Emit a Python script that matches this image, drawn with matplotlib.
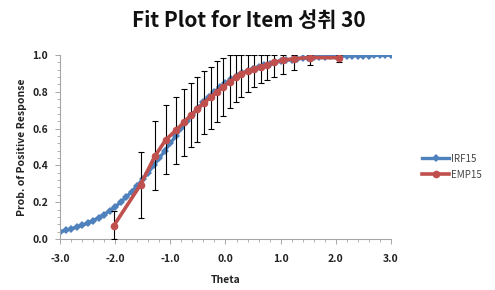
import matplotlib
matplotlib.use("Agg")
import matplotlib.pyplot as plt
from matplotlib.ticker import MultipleLocator, FormatStrFormatter
import numpy as np

plt.rcParams['font.family'] = ['Noto Sans CJK KR', 'DejaVu Sans']

# IRF15 curve (theta grid and probabilities)
irf_theta = [round(-3.0 + 0.1 * i, 1) for i in range(61)]
irf_p = [0.040, 0.047, 0.055, 0.064, 0.074, 0.086, 0.100, 0.115, 0.133, 0.153,
         0.175, 0.200, 0.228, 0.257, 0.290, 0.325, 0.361, 0.400, 0.439, 0.480,
         0.520, 0.561, 0.601, 0.639, 0.676, 0.710, 0.743, 0.773, 0.800, 0.825,
         0.847, 0.867, 0.885, 0.900, 0.914, 0.926, 0.936, 0.946, 0.953, 0.960,
         0.966, 0.971, 0.975, 0.979, 0.982, 0.985, 0.987, 0.989, 0.991, 0.992,
         0.993, 0.994, 0.995, 0.996, 0.996, 0.997, 0.997, 0.998, 0.998, 0.998,
         0.999]

# EMP15 points with error bar bounds
emp_theta = [-2.03, -1.54, -1.28, -1.08, -0.90, -0.75, -0.63, -0.51, -0.39, -0.27,
             -0.15, -0.04, 0.08, 0.19, 0.29, 0.41, 0.52, 0.64, 0.76, 0.88,
             1.05, 1.25, 1.53, 2.06]
emp_p = [0.070, 0.295, 0.450, 0.540, 0.590, 0.635, 0.672, 0.705, 0.741, 0.769,
         0.800, 0.828, 0.855, 0.878, 0.897, 0.913, 0.925, 0.935, 0.947, 0.960,
         0.972, 0.980, 0.986, 0.985]
emp_lo = [0.000, 0.116, 0.265, 0.355, 0.408, 0.453, 0.498, 0.529, 0.569, 0.600,
          0.638, 0.670, 0.710, 0.743, 0.773, 0.800, 0.824, 0.848, 0.862, 0.879,
          0.897, 0.918, 0.946, 0.964]
emp_hi = [0.154, 0.474, 0.641, 0.728, 0.770, 0.815, 0.846, 0.880, 0.913, 0.937,
          0.967, 0.985, 1.000, 1.000, 1.000, 1.000, 1.000, 1.000, 1.000, 1.000,
          1.000, 1.000, 1.000, 1.000]

title = "Fit Plot for Item 성취 30"
xlabel = "Theta"
ylabel = "Prob. of Positive Response"

blue = "#4F81BD"
red = "#C0504D"

fig = plt.figure(figsize=(4.95, 2.9), dpi=100)
ax = fig.add_axes([0.1212, 0.1759, 0.6687, 0.6345])

l1, = ax.plot(irf_theta, irf_p, color=blue, lw=2.4, marker='D', markersize=4.4,
              markeredgewidth=0, label="IRF15", zorder=2)

emp_p_a = np.array(emp_p)
yerr = [emp_p_a - np.array(emp_lo), np.array(emp_hi) - emp_p_a]
ax.errorbar(emp_theta, emp_p, yerr=yerr, fmt='none', ecolor='black', elinewidth=0.8,
            capsize=2.5, capthick=0.8, zorder=3)
l2, = ax.plot(emp_theta, emp_p, color=red, lw=2.6, marker='o', markersize=5.5,
              markeredgewidth=0, label="EMP15", zorder=4)

ax.set_xlim(-3.0, 3.0)
ax.set_ylim(0.0, 1.0)
ax.xaxis.set_major_locator(MultipleLocator(1.0))
ax.xaxis.set_minor_locator(MultipleLocator(0.2))
ax.yaxis.set_major_locator(MultipleLocator(0.2))
ax.yaxis.set_minor_locator(MultipleLocator(0.04))
ax.xaxis.set_major_formatter(FormatStrFormatter('%.1f'))
ax.yaxis.set_major_formatter(FormatStrFormatter('%.1f'))

for s in ['top', 'right']:
    ax.spines[s].set_visible(False)
for s in ['left', 'bottom']:
    ax.spines[s].set_color('#A6A6A6')
    ax.spines[s].set_linewidth(0.8)

ax.tick_params(axis='both', which='major', direction='out', length=3.5, width=0.7,
               color='#A6A6A6', labelsize=7.5, labelcolor='#222222', pad=5)
ax.tick_params(axis='x', which='major', pad=7)
ax.tick_params(axis='both', which='minor', direction='out', length=2, width=0.6,
               color='#A6A6A6')
for lab in ax.get_xticklabels() + ax.get_yticklabels():
    lab.set_fontweight('bold')

ax.set_xlabel(xlabel, fontsize=7.5, fontweight='bold', color='#222222', labelpad=8)
ax.set_ylabel(ylabel, fontsize=7.5, fontweight='bold', color='#222222', labelpad=4)

fig.text(0.503, 0.93, title, ha='center', va='center', fontsize=15,
         fontweight='bold', color='#111111')

leg = fig.legend(handles=[l1, l2], loc='center left', bbox_to_anchor=(0.835, 0.425),
                 frameon=False, fontsize=7, handlelength=2.8, labelspacing=0.6,
                 handletextpad=0.2)
for t in leg.get_texts():
    t.set_color('#444444')

fig.savefig("out.png", dpi=100)
